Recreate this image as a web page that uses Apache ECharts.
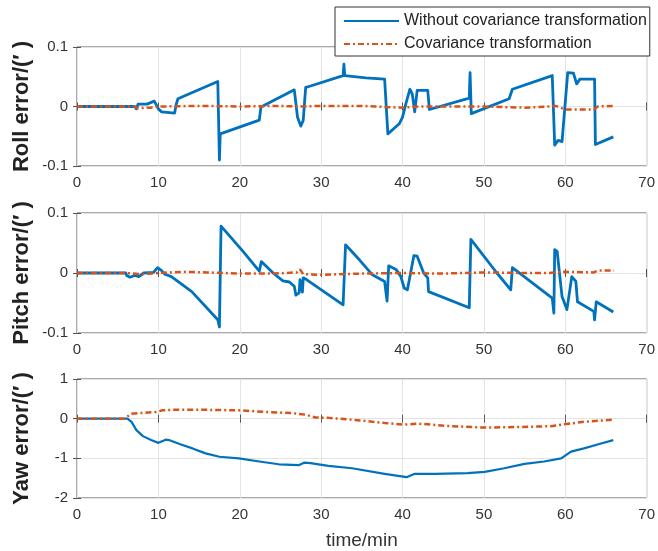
<!DOCTYPE html>
<html>
<head>
<meta charset="utf-8">
<script src="https://cdn.jsdelivr.net/npm/echarts@6/dist/echarts.min.js"></script>
<style>
  html, body { margin: 0; padding: 0; background: #fff; }
  #chart { width: 658px; height: 551px; }
</style>
</head>
<body>
<div id="chart"></div>
<script>
// Attitude error over time, with and without covariance transformation.
const seriesNames = ['Without covariance transformation', 'Covariance transformation'];
const xTicks = { min: 0, max: 70, interval: 10 };

// Roll error [time (min), error]
const rollWithout = [
  [0, 0], [7.1, 0], [7.3, -0.004], [7.5, 0.004], [8.6, 0.004], [9.5, 0.009], [10, -0.004],
  [10.4, -0.009], [12, -0.011], [12.2, 0.004], [12.4, 0.013], [17.3, 0.042], [17.5, -0.09],
  [17.6, -0.046], [22.4, -0.023], [22.6, -0.001], [25.7, 0.021], [26.7, 0.028], [27.1, -0.018],
  [27.5, -0.033], [27.8, -0.023], [28.1, 0.032], [28.6, 0.034], [32.7, 0.052], [32.8, 0.071],
  [32.9, 0.052], [35.5, 0.048], [37.8, 0.046], [38.2, -0.046], [39.6, -0.029], [40, -0.018],
  [40.4, 0.004], [40.9, 0.029], [41.2, 0.021], [41.5, -0.009], [41.8, 0.027], [43.1, 0.027],
  [43.3, -0.005], [48.2, 0.014], [48.3, 0.057], [48.45, -0.012], [53.1, 0.013], [53.5, 0.029],
  [58.4, 0.052], [58.7, -0.065], [59.1, -0.057], [59.6, -0.059], [60.3, 0.057], [61, 0.056],
  [61.4, 0.038], [61.8, 0.046], [63.6, 0.046], [63.7, -0.064], [65.9, -0.051]
];
const rollWith = [
  [0, 0], [7, 0], [7.5, -0.003], [9, -0.002], [10, 0], [15, 0.001], [20, 0], [25, 0.001],
  [27, 0], [30, 0.001], [35, 0.001], [38, -0.001], [40, -0.002], [42, 0], [48, 0], [50, 0],
  [55, -0.002], [58, 0], [58.8, 0.001], [60, -0.005], [63.5, -0.005], [64, 0], [66, 0.001]
];

// Pitch error [time (min), error]
const pitchWithout = [
  [0, 0], [6, 0], [6.1, -0.004], [6.5, -0.007], [7.1, -0.004], [7.6, -0.006], [8.2, 0],
  [9.4, 0.001], [9.9, 0.009], [10.4, 0.004], [10.8, -0.002], [11.6, -0.006], [14.1, -0.031],
  [17.3, -0.078], [17.5, -0.09], [17.7, 0.078], [20.4, 0.036], [22.4, 0.003], [22.65, 0.019],
  [24.1, 0], [25.3, -0.013], [26.1, -0.015], [26.7, -0.022], [26.9, -0.037], [27.3, -0.033],
  [27.4, -0.011], [27.7, -0.032], [27.8, -0.008], [28.2, -0.011], [32.7, -0.053], [33, 0.047],
  [34.7, 0.022], [36.3, -0.003], [37.8, -0.014], [38.1, -0.047], [38.3, 0.012], [39.2, 0.006],
  [39.8, -0.006], [40.2, -0.025], [40.6, -0.028], [41.4, 0.029], [41.8, 0.028], [42.6, 0],
  [43.1, -0.008], [43.2, -0.031], [48.2, -0.058], [48.4, 0.056], [51.6, 0], [53.3, -0.028],
  [53.5, 0.009], [58.4, -0.042], [58.6, -0.067], [58.7, 0.039], [59, 0.036], [59.6, -0.039],
  [60.2, -0.061], [60.8, -0.006], [61.3, -0.014], [61.5, -0.048], [63.5, -0.064],
  [63.6, -0.078], [63.8, -0.048], [65.9, -0.065]
];
const pitchWith = [
  [0, 0], [6, 0], [8, -0.002], [10, 0], [13, 0.002], [16, 0.001], [20, -0.001], [24, -0.001],
  [27, 0.001], [27.4, 0.006], [27.8, -0.002], [30, -0.003], [35, -0.001], [40, 0], [45, -0.001],
  [50, 0.001], [55, 0], [58, 0], [60, 0.002], [63.5, 0.001], [64, 0.004], [66, 0.004]
];

// Yaw error [time (min), error]
const yawWithout = [
  [0, 0], [6.2, 0], [6.7, -0.08], [7.3, -0.29], [8.1, -0.44], [9.1, -0.54], [10, -0.61],
  [10.9, -0.53], [11.3, -0.54], [12.6, -0.64], [14.2, -0.75], [15.8, -0.875], [17.5, -0.96],
  [19.9, -1.0], [22.4, -1.08], [24.8, -1.15], [27.3, -1.17], [27.9, -1.11], [28.7, -1.12],
  [30.9, -1.19], [33.8, -1.25], [37.8, -1.39], [40.5, -1.475], [41.5, -1.39], [44, -1.39],
  [48, -1.375], [50.1, -1.34], [52.5, -1.25], [55, -1.14], [57.4, -1.08], [59.5, -1.0],
  [60.7, -0.83], [62.3, -0.75], [64.4, -0.625], [65.9, -0.54]
];
const yawWith = [
  [0, 0], [5.8, 0], [6.7, 0.125], [9.7, 0.17], [10.5, 0.21], [11.8, 0.225], [15, 0.225],
  [19.9, 0.21], [23.2, 0.17], [26.4, 0.14], [28.1, 0.1], [29.3, 0.03], [30.9, 0.02],
  [33.8, -0.025], [37.8, -0.11], [40.3, -0.15], [41.9, -0.125], [46, -0.19], [50.1, -0.225],
  [54.2, -0.21], [58.2, -0.19], [59.9, -0.14], [62.3, -0.08], [65.9, -0.025]
];

const panels = [
  { name: 'Roll error/(\u2032 )', min: -0.1, max: 0.1, interval: 0.1, without: rollWithout, withT: rollWith, top: 47, height: 119, blueWidth: 2.8 },
  { name: 'Pitch error/(\u2032 )', min: -0.1, max: 0.1, interval: 0.1, without: pitchWithout, withT: pitchWith, top: 213, height: 120, blueWidth: 2.8 },
  { name: 'Yaw error/(\u2032 )', min: -2, max: 1, interval: 1, without: yawWithout, withT: yawWith, top: 379, height: 119, blueWidth: 2.2 }
];

const BLUE = '#0072BD';
const ORANGE = '#D95319';
const AXIS_COLOR = '#555';
const LABEL_COLOR = '#333';
const FONT = '"Liberation Sans", Arial, sans-serif';

const grid = [], xAxis = [], yAxis = [], series = [];
panels.forEach((p, i) => {
  grid.push({ left: 77, width: 572, top: p.top, height: p.height, show: true, borderColor: AXIS_COLOR, borderWidth: 1, backgroundColor: '#fff' });
  // bottom axis with labels
  xAxis.push({
    type: 'value', gridIndex: i, min: xTicks.min, max: xTicks.max, interval: xTicks.interval,
    axisLine: { show: false }, axisTick: { show: true, inside: true, length: 4, lineStyle: { color: AXIS_COLOR } },
    axisLabel: { color: LABEL_COLOR, fontSize: 15, fontFamily: FONT, margin: 9 },
    splitLine: { show: true, lineStyle: { color: '#e3e3e3', width: 1 } },
    name: i === 2 ? 'time/min' : '', nameLocation: 'middle', nameGap: 33, nameMoveOverlap: false,
    nameTextStyle: { color: LABEL_COLOR, fontSize: 19, fontFamily: FONT }
  });
  // top mirror axis: ticks only
  xAxis.push({
    type: 'value', gridIndex: i, position: 'top', min: xTicks.min, max: xTicks.max, interval: xTicks.interval,
    axisLine: { show: false }, axisTick: { show: true, inside: true, length: 4, lineStyle: { color: AXIS_COLOR } },
    axisLabel: { show: false }, splitLine: { show: false }
  });
  yAxis.push({
    type: 'value', gridIndex: i, min: p.min, max: p.max, interval: p.interval,
    axisLine: { show: false }, axisTick: { show: true, inside: true, length: 4, lineStyle: { color: AXIS_COLOR } },
    axisLabel: { color: LABEL_COLOR, fontSize: 15, fontFamily: FONT, margin: 9 },
    splitLine: { show: true, lineStyle: { color: '#e3e3e3', width: 1 } },
    name: p.name, nameLocation: 'middle', nameRotate: 90, nameGap: 44, nameMoveOverlap: false,
    nameTextStyle: { color: '#222', fontSize: 22, fontWeight: 'bold', fontFamily: FONT }
  });
  yAxis.push({
    type: 'value', gridIndex: i, position: 'right', min: p.min, max: p.max, interval: p.interval,
    axisLine: { show: false }, axisTick: { show: true, inside: true, length: 4, lineStyle: { color: AXIS_COLOR } },
    axisLabel: { show: false }, splitLine: { show: false }
  });
  series.push({
    name: seriesNames[0], type: 'line', xAxisIndex: 2 * i, yAxisIndex: 2 * i,
    data: p.without, symbol: 'none', animation: false,
    lineStyle: { color: BLUE, width: p.blueWidth, join: 'round' }, itemStyle: { color: BLUE }, z: 2
  });
  series.push({
    name: seriesNames[1], type: 'line', xAxisIndex: 2 * i, yAxisIndex: 2 * i,
    data: p.withT, symbol: 'none', animation: false,
    lineStyle: { color: ORANGE, width: 2.5, type: [6, 3, 2, 3] }, itemStyle: { color: ORANGE }, z: 3
  });
});

const chart = echarts.init(document.getElementById('chart'), null, { renderer: 'canvas' });
chart.setOption({
  backgroundColor: '#fff',
  animation: false,
  grid, xAxis, yAxis, series,
  legend: {
    data: seriesNames, orient: 'vertical', left: 335, top: 7,
    backgroundColor: '#fff', borderColor: '#333', borderWidth: 1,
    padding: [6, 3, 4, 8], itemGap: 7, itemWidth: 55, itemHeight: 14,
    itemStyle: { opacity: 0 },
    textStyle: { color: '#222', fontSize: 16, fontFamily: FONT },
    z: 10
  }
});
</script>
</body>
</html>
